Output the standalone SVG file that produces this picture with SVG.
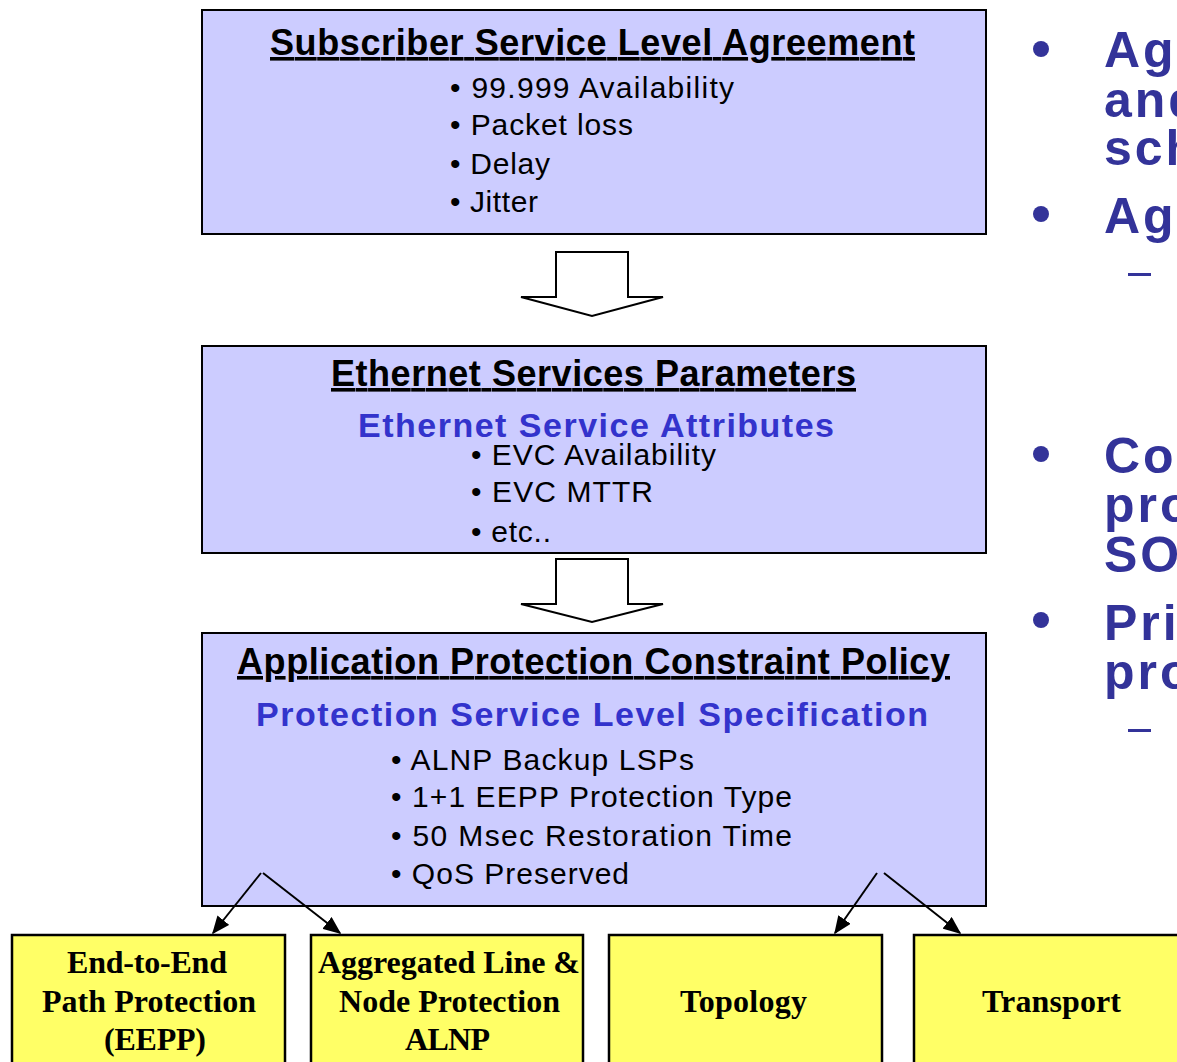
<svg xmlns="http://www.w3.org/2000/svg" width="1177" height="1062" viewBox="0 0 1177 1062">
  <style>
    .panel { fill: #ccccff; stroke: #000; stroke-width: 2; }
    .leaf { fill: #ffff66; stroke: #000; stroke-width: 2.5; }
    .block { fill: #fff; stroke: #000; stroke-width: 2; stroke-linejoin: miter; }
    .title { font-family: "Liberation Sans", Arial, sans-serif; font-weight: bold; font-size: 36px; fill: #000; text-decoration: underline; }
    .sub { font-family: "Liberation Sans", Arial, sans-serif; font-weight: bold; font-size: 34px; fill: #3333cc; }
    .item { font-family: "Liberation Sans", Arial, sans-serif; font-size: 30px; fill: #000; }
    .leaftext { font-family: "Liberation Serif", "Times New Roman", serif; font-weight: bold; font-size: 32px; fill: #000; }
    .side { font-family: "Liberation Sans", Arial, sans-serif; font-weight: bold; font-size: 50px; letter-spacing: 3px; fill: #333399; }
    .dot { fill: #333399; }
    .link { stroke: #000; stroke-width: 2; fill: none; }
  </style>
  <defs>
    <marker id="tip" viewBox="0 0 12 10" refX="11" refY="5" markerWidth="18" markerHeight="15" markerUnits="userSpaceOnUse" orient="auto">
      <path d="M0,0 L12,5 L0,10 z" fill="#000"/>
    </marker>
  </defs>
  <rect width="1177" height="1062" fill="#fff"/>

  <!-- top panel -->
  <g id="sla">
    <rect class="panel" x="202" y="10" width="784" height="224"/>
    <text class="title" x="270" y="55" textLength="645" lengthAdjust="spacing">Subscriber Service Level Agreement</text>
    <text class="item" x="450" y="98" textLength="284" lengthAdjust="spacing">• 99.999  Availability</text>
    <text class="item" x="450" y="135" textLength="183" lengthAdjust="spacing">• Packet loss</text>
    <text class="item" x="450" y="174" textLength="100" lengthAdjust="spacing">• Delay</text>
    <text class="item" x="450" y="212" textLength="88" lengthAdjust="spacing">• Jitter</text>
  </g>

  <!-- ethernet parameters panel -->
  <g id="eth">
    <rect class="panel" x="202" y="346" width="784" height="207"/>
    <text class="title" x="331" y="386" textLength="525" lengthAdjust="spacing">Ethernet Services Parameters</text>
    <text class="sub" x="358" y="437" textLength="476" lengthAdjust="spacing">Ethernet Service Attributes</text>
    <text class="item" x="471" y="465" textLength="245" lengthAdjust="spacing">• EVC Availability</text>
    <text class="item" x="471" y="502" textLength="182" lengthAdjust="spacing">• EVC MTTR</text>
    <text class="item" x="471" y="542" textLength="80" lengthAdjust="spacing">• etc..</text>
  </g>

  <!-- protection policy panel -->
  <g id="policy">
    <rect class="panel" x="202" y="633" width="784" height="273"/>
    <text class="title" x="237" y="674" textLength="713" lengthAdjust="spacing">Application Protection Constraint Policy</text>
    <text class="sub" x="256" y="726" textLength="672" lengthAdjust="spacing">Protection Service Level Specification</text>
    <text class="item" x="391" y="770" textLength="303" lengthAdjust="spacing">• ALNP Backup LSPs</text>
    <text class="item" x="391" y="807" textLength="401" lengthAdjust="spacing">• 1+1 EEPP Protection Type</text>
    <text class="item" x="391" y="846" textLength="401" lengthAdjust="spacing">• 50 Msec Restoration  Time</text>
    <text class="item" x="391" y="884" textLength="238" lengthAdjust="spacing">• QoS Preserved</text>
  </g>

  <!-- leaf boxes -->
  <g id="eepp">
    <rect class="leaf" x="12" y="935" width="273" height="140"/>
    <text class="leaftext" x="67" y="973" textLength="160" lengthAdjust="spacing">End-to-End</text>
    <text class="leaftext" x="42" y="1012" textLength="214" lengthAdjust="spacing">Path Protection</text>
    <text class="leaftext" x="104" y="1050" textLength="102" lengthAdjust="spacing">(EEPP)</text>
  </g>
  <g id="alnp">
    <rect class="leaf" x="311" y="935" width="272" height="140"/>
    <text class="leaftext" x="318" y="973" textLength="262" lengthAdjust="spacing">Aggregated Line &amp;</text>
    <text class="leaftext" x="339" y="1012" textLength="221" lengthAdjust="spacing">Node Protection</text>
    <text class="leaftext" x="405" y="1050" textLength="85" lengthAdjust="spacing">ALNP</text>
  </g>
  <g id="topology">
    <rect class="leaf" x="609" y="935" width="273" height="140"/>
    <text class="leaftext" x="680" y="1012" textLength="127" lengthAdjust="spacing">Topology</text>
  </g>
  <g id="transport">
    <rect class="leaf" x="914" y="935" width="280" height="140"/>
    <text class="leaftext" x="982" y="1012" textLength="139" lengthAdjust="spacing">Transport</text>
  </g>

  <!-- connectors -->
  <g id="connectors">
    <path class="block" d="M556,252 H628 V297 H663 L592,316 L521,297 H556 Z"/>
    <path class="block" d="M556,559 H628 V604 H663 L592,622 L521,604 H556 Z"/>
    <line class="link" x1="261" y1="873" x2="213" y2="933" marker-end="url(#tip)"/>
    <line class="link" x1="263" y1="873" x2="340" y2="933" marker-end="url(#tip)"/>
    <line class="link" x1="877" y1="873" x2="835" y2="933" marker-end="url(#tip)"/>
    <line class="link" x1="884" y1="873" x2="960" y2="933" marker-end="url(#tip)"/>
  </g>

  <!-- side notes -->
  <g id="notes">
    <circle class="dot" cx="1041" cy="49" r="8"/>
    <text class="side" x="1104" y="67">Ag</text>
    <text class="side" x="1104" y="117">and</text>
    <text class="side" x="1104" y="165">sch</text>
    <circle class="dot" cx="1041" cy="214" r="8"/>
    <text class="side" x="1104" y="233">Ag</text>
    <rect class="dot" x="1128" y="273" width="23" height="3"/>
    <circle class="dot" cx="1041" cy="454" r="8"/>
    <text class="side" x="1104" y="473">Co</text>
    <text class="side" x="1104" y="522">pro</text>
    <text class="side" x="1104" y="572">SO</text>
    <circle class="dot" cx="1041" cy="620" r="8"/>
    <text class="side" x="1104" y="640">Pri</text>
    <text class="side" x="1104" y="689">pro</text>
    <rect class="dot" x="1128" y="729" width="23" height="3"/>
  </g>
</svg>
